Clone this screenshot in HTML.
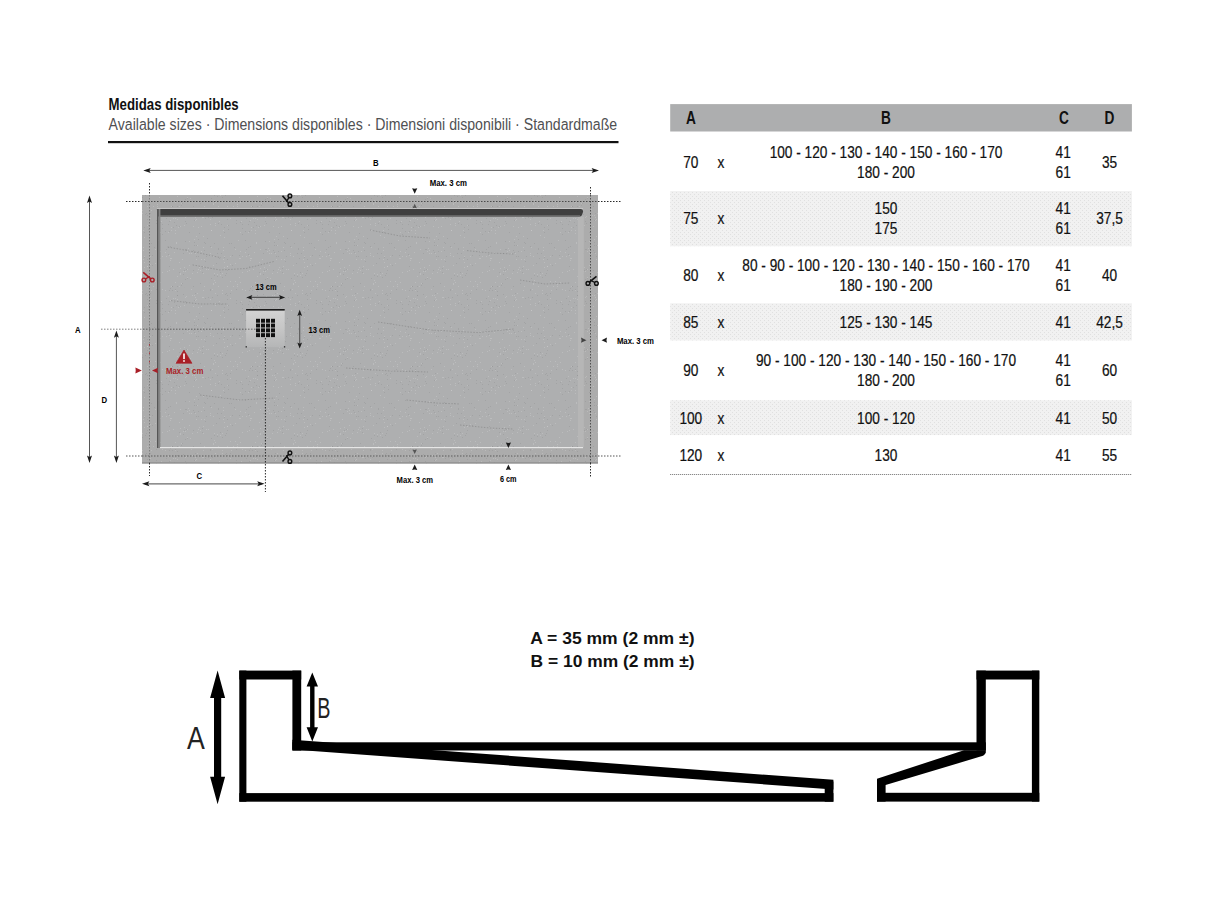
<!DOCTYPE html>
<html><head><meta charset="utf-8"><title>Medidas disponibles</title>
<style>
html,body{margin:0;padding:0;background:#fff;}
body{width:1206px;height:904px;overflow:hidden;}
svg{display:block;font-family:"Liberation Sans",sans-serif;}
</style></head><body>
<svg width="1206" height="904" viewBox="0 0 1206 904">
<rect width="1206" height="904" fill="#fff"/>
<text x="108.60" y="110.00" font-size="16.8" font-weight="bold" fill="#111" textLength="130.10" lengthAdjust="spacingAndGlyphs" >Medidas disponibles</text>
<text x="108.60" y="129.80" font-size="16.8" font-weight="normal" fill="#4f5052" textLength="508.60" lengthAdjust="spacingAndGlyphs" >Available sizes · Dimensions disponibles · Dimensioni disponibili · Standardmaße</text>
<rect x="108" y="141" width="510.5" height="2.2" fill="#111"/>
<rect x="670.2" y="104.1" width="461.7" height="27.4" fill="#adaeaf"/>
<defs><pattern id="rowpat" x="0" y="0" width="4" height="4" patternUnits="userSpaceOnUse"><rect width="4" height="4" fill="#f1f1f1"/><rect x="0" y="0" width="1" height="1" fill="#e0e0e0"/><rect x="2" y="2" width="1" height="1" fill="#e0e0e0"/></pattern></defs>
<rect x="670.2" y="191.0" width="461.7" height="55.3" fill="url(#rowpat)"/>
<rect x="670.2" y="303.3" width="461.7" height="37.2" fill="url(#rowpat)"/>
<rect x="670.2" y="400.2" width="461.7" height="34.9" fill="url(#rowpat)"/>
<line x1="670.2" y1="474.5" x2="1131.9" y2="474.5" stroke="#6e6e6e" stroke-width="1" stroke-dasharray="1 1"/>
<text x="686.06" y="124.00" font-size="18" font-weight="bold" fill="#111" textLength="9.88" lengthAdjust="spacingAndGlyphs" >A</text>
<text x="881.06" y="124.00" font-size="18" font-weight="bold" fill="#111" textLength="9.88" lengthAdjust="spacingAndGlyphs" >B</text>
<text x="1059.06" y="124.00" font-size="18" font-weight="bold" fill="#111" textLength="9.88" lengthAdjust="spacingAndGlyphs" >C</text>
<text x="1104.56" y="124.00" font-size="18" font-weight="bold" fill="#111" textLength="9.88" lengthAdjust="spacingAndGlyphs" >D</text>
<text x="683.19" y="167.90" font-size="16.5" font-weight="normal" fill="#111" textLength="15.22" lengthAdjust="spacingAndGlyphs"  stroke="#111" stroke-width="0.22">70</text>
<text x="717.58" y="167.90" font-size="16.5" font-weight="normal" fill="#111" textLength="6.84" lengthAdjust="spacingAndGlyphs"  stroke="#111" stroke-width="0.22">x</text>
<text x="1101.89" y="167.90" font-size="16.5" font-weight="normal" fill="#111" textLength="15.22" lengthAdjust="spacingAndGlyphs"  stroke="#111" stroke-width="0.22">35</text>
<text x="769.65" y="157.90" font-size="16.5" font-weight="normal" fill="#111" textLength="232.70" lengthAdjust="spacingAndGlyphs"  stroke="#111" stroke-width="0.22">100 - 120 - 130 - 140 - 150 - 160 - 170</text>
<text x="857.10" y="177.90" font-size="16.5" font-weight="normal" fill="#111" textLength="57.80" lengthAdjust="spacingAndGlyphs"  stroke="#111" stroke-width="0.22">180 - 200</text>
<text x="1055.59" y="157.90" font-size="16.5" font-weight="normal" fill="#111" textLength="15.22" lengthAdjust="spacingAndGlyphs"  stroke="#111" stroke-width="0.22">41</text>
<text x="1055.59" y="177.90" font-size="16.5" font-weight="normal" fill="#111" textLength="15.22" lengthAdjust="spacingAndGlyphs"  stroke="#111" stroke-width="0.22">61</text>
<text x="683.19" y="224.40" font-size="16.5" font-weight="normal" fill="#111" textLength="15.22" lengthAdjust="spacingAndGlyphs"  stroke="#111" stroke-width="0.22">75</text>
<text x="717.58" y="224.40" font-size="16.5" font-weight="normal" fill="#111" textLength="6.84" lengthAdjust="spacingAndGlyphs"  stroke="#111" stroke-width="0.22">x</text>
<text x="1096.19" y="224.40" font-size="16.5" font-weight="normal" fill="#111" textLength="26.62" lengthAdjust="spacingAndGlyphs"  stroke="#111" stroke-width="0.22">37,5</text>
<text x="874.59" y="214.40" font-size="16.5" font-weight="normal" fill="#111" textLength="22.82" lengthAdjust="spacingAndGlyphs"  stroke="#111" stroke-width="0.22">150</text>
<text x="874.59" y="234.40" font-size="16.5" font-weight="normal" fill="#111" textLength="22.82" lengthAdjust="spacingAndGlyphs"  stroke="#111" stroke-width="0.22">175</text>
<text x="1055.59" y="214.40" font-size="16.5" font-weight="normal" fill="#111" textLength="15.22" lengthAdjust="spacingAndGlyphs"  stroke="#111" stroke-width="0.22">41</text>
<text x="1055.59" y="234.40" font-size="16.5" font-weight="normal" fill="#111" textLength="15.22" lengthAdjust="spacingAndGlyphs"  stroke="#111" stroke-width="0.22">61</text>
<text x="683.19" y="280.70" font-size="16.5" font-weight="normal" fill="#111" textLength="15.22" lengthAdjust="spacingAndGlyphs"  stroke="#111" stroke-width="0.22">80</text>
<text x="717.58" y="280.70" font-size="16.5" font-weight="normal" fill="#111" textLength="6.84" lengthAdjust="spacingAndGlyphs"  stroke="#111" stroke-width="0.22">x</text>
<text x="1101.89" y="280.70" font-size="16.5" font-weight="normal" fill="#111" textLength="15.22" lengthAdjust="spacingAndGlyphs"  stroke="#111" stroke-width="0.22">40</text>
<text x="742.28" y="270.70" font-size="16.5" font-weight="normal" fill="#111" textLength="287.45" lengthAdjust="spacingAndGlyphs"  stroke="#111" stroke-width="0.22">80 - 90 - 100 - 120 - 130 - 140 - 150 - 160 - 170</text>
<text x="839.61" y="290.70" font-size="16.5" font-weight="normal" fill="#111" textLength="92.78" lengthAdjust="spacingAndGlyphs"  stroke="#111" stroke-width="0.22">180 - 190 - 200</text>
<text x="1055.59" y="270.70" font-size="16.5" font-weight="normal" fill="#111" textLength="15.22" lengthAdjust="spacingAndGlyphs"  stroke="#111" stroke-width="0.22">41</text>
<text x="1055.59" y="290.70" font-size="16.5" font-weight="normal" fill="#111" textLength="15.22" lengthAdjust="spacingAndGlyphs"  stroke="#111" stroke-width="0.22">61</text>
<text x="683.19" y="327.50" font-size="16.5" font-weight="normal" fill="#111" textLength="15.22" lengthAdjust="spacingAndGlyphs"  stroke="#111" stroke-width="0.22">85</text>
<text x="717.58" y="327.50" font-size="16.5" font-weight="normal" fill="#111" textLength="6.84" lengthAdjust="spacingAndGlyphs"  stroke="#111" stroke-width="0.22">x</text>
<text x="1096.19" y="327.50" font-size="16.5" font-weight="normal" fill="#111" textLength="26.62" lengthAdjust="spacingAndGlyphs"  stroke="#111" stroke-width="0.22">42,5</text>
<text x="839.61" y="327.50" font-size="16.5" font-weight="normal" fill="#111" textLength="92.78" lengthAdjust="spacingAndGlyphs"  stroke="#111" stroke-width="0.22">125 - 130 - 145</text>
<text x="1055.59" y="327.50" font-size="16.5" font-weight="normal" fill="#111" textLength="15.22" lengthAdjust="spacingAndGlyphs"  stroke="#111" stroke-width="0.22">41</text>
<text x="683.19" y="375.70" font-size="16.5" font-weight="normal" fill="#111" textLength="15.22" lengthAdjust="spacingAndGlyphs"  stroke="#111" stroke-width="0.22">90</text>
<text x="717.58" y="375.70" font-size="16.5" font-weight="normal" fill="#111" textLength="6.84" lengthAdjust="spacingAndGlyphs"  stroke="#111" stroke-width="0.22">x</text>
<text x="1101.89" y="375.70" font-size="16.5" font-weight="normal" fill="#111" textLength="15.22" lengthAdjust="spacingAndGlyphs"  stroke="#111" stroke-width="0.22">60</text>
<text x="755.96" y="365.70" font-size="16.5" font-weight="normal" fill="#111" textLength="260.08" lengthAdjust="spacingAndGlyphs"  stroke="#111" stroke-width="0.22">90 - 100 - 120 - 130 - 140 - 150 - 160 - 170</text>
<text x="857.10" y="385.70" font-size="16.5" font-weight="normal" fill="#111" textLength="57.80" lengthAdjust="spacingAndGlyphs"  stroke="#111" stroke-width="0.22">180 - 200</text>
<text x="1055.59" y="365.70" font-size="16.5" font-weight="normal" fill="#111" textLength="15.22" lengthAdjust="spacingAndGlyphs"  stroke="#111" stroke-width="0.22">41</text>
<text x="1055.59" y="385.70" font-size="16.5" font-weight="normal" fill="#111" textLength="15.22" lengthAdjust="spacingAndGlyphs"  stroke="#111" stroke-width="0.22">61</text>
<text x="679.39" y="423.90" font-size="16.5" font-weight="normal" fill="#111" textLength="22.82" lengthAdjust="spacingAndGlyphs"  stroke="#111" stroke-width="0.22">100</text>
<text x="717.58" y="423.90" font-size="16.5" font-weight="normal" fill="#111" textLength="6.84" lengthAdjust="spacingAndGlyphs"  stroke="#111" stroke-width="0.22">x</text>
<text x="1101.89" y="423.90" font-size="16.5" font-weight="normal" fill="#111" textLength="15.22" lengthAdjust="spacingAndGlyphs"  stroke="#111" stroke-width="0.22">50</text>
<text x="857.10" y="423.90" font-size="16.5" font-weight="normal" fill="#111" textLength="57.80" lengthAdjust="spacingAndGlyphs"  stroke="#111" stroke-width="0.22">100 - 120</text>
<text x="1055.59" y="423.90" font-size="16.5" font-weight="normal" fill="#111" textLength="15.22" lengthAdjust="spacingAndGlyphs"  stroke="#111" stroke-width="0.22">41</text>
<text x="679.39" y="460.90" font-size="16.5" font-weight="normal" fill="#111" textLength="22.82" lengthAdjust="spacingAndGlyphs"  stroke="#111" stroke-width="0.22">120</text>
<text x="717.58" y="460.90" font-size="16.5" font-weight="normal" fill="#111" textLength="6.84" lengthAdjust="spacingAndGlyphs"  stroke="#111" stroke-width="0.22">x</text>
<text x="1101.89" y="460.90" font-size="16.5" font-weight="normal" fill="#111" textLength="15.22" lengthAdjust="spacingAndGlyphs"  stroke="#111" stroke-width="0.22">55</text>
<text x="874.59" y="460.90" font-size="16.5" font-weight="normal" fill="#111" textLength="22.82" lengthAdjust="spacingAndGlyphs"  stroke="#111" stroke-width="0.22">130</text>
<text x="1055.59" y="460.90" font-size="16.5" font-weight="normal" fill="#111" textLength="15.22" lengthAdjust="spacingAndGlyphs"  stroke="#111" stroke-width="0.22">41</text>
<rect x="142" y="195" width="456" height="268.5" fill="#acacac"/>
<rect x="157" y="209" width="426.8" height="239" fill="#aeafb0"/>
<defs><pattern id="spk" x="0" y="0" width="80" height="80" patternUnits="userSpaceOnUse"><rect x="41" y="19" width="1" height="1" fill="#d4d4d4" fill-opacity="0.35"/><rect x="6" y="9" width="1" height="1" fill="#8a8a8a" fill-opacity="0.3"/><rect x="12" y="46" width="1" height="1" fill="#8a8a8a" fill-opacity="0.3"/><rect x="64" y="27" width="1" height="1" fill="#d4d4d4" fill-opacity="0.35"/><rect x="55" y="53" width="1" height="1" fill="#d4d4d4" fill-opacity="0.35"/><rect x="11" y="70" width="1" height="1" fill="#d4d4d4" fill-opacity="0.35"/><rect x="72" y="15" width="1" height="1" fill="#8a8a8a" fill-opacity="0.3"/><rect x="74" y="7" width="1" height="1" fill="#8a8a8a" fill-opacity="0.3"/><rect x="50" y="6" width="1" height="1" fill="#8a8a8a" fill-opacity="0.3"/><rect x="5" y="71" width="1" height="1" fill="#8a8a8a" fill-opacity="0.3"/><rect x="37" y="53" width="1" height="1" fill="#d4d4d4" fill-opacity="0.35"/><rect x="15" y="73" width="1" height="1" fill="#d4d4d4" fill-opacity="0.35"/><rect x="23" y="13" width="1" height="1" fill="#8a8a8a" fill-opacity="0.3"/><rect x="24" y="47" width="1" height="1" fill="#d4d4d4" fill-opacity="0.35"/><rect x="8" y="72" width="1" height="1" fill="#d4d4d4" fill-opacity="0.35"/><rect x="26" y="63" width="1" height="1" fill="#8a8a8a" fill-opacity="0.3"/><rect x="54" y="40" width="1" height="1" fill="#d4d4d4" fill-opacity="0.35"/><rect x="58" y="46" width="1" height="1" fill="#d4d4d4" fill-opacity="0.35"/><rect x="23" y="31" width="1" height="1" fill="#d4d4d4" fill-opacity="0.35"/><rect x="38" y="67" width="1" height="1" fill="#d4d4d4" fill-opacity="0.35"/><rect x="43" y="57" width="1" height="1" fill="#d4d4d4" fill-opacity="0.35"/><rect x="9" y="15" width="1" height="1" fill="#d4d4d4" fill-opacity="0.35"/><rect x="21" y="43" width="1" height="1" fill="#d4d4d4" fill-opacity="0.35"/><rect x="62" y="53" width="1" height="1" fill="#d4d4d4" fill-opacity="0.35"/><rect x="9" y="71" width="1" height="1" fill="#8a8a8a" fill-opacity="0.3"/><rect x="40" y="43" width="1" height="1" fill="#8a8a8a" fill-opacity="0.3"/><rect x="76" y="63" width="1" height="1" fill="#8a8a8a" fill-opacity="0.3"/><rect x="58" y="8" width="1" height="1" fill="#8a8a8a" fill-opacity="0.3"/><rect x="34" y="60" width="1" height="1" fill="#8a8a8a" fill-opacity="0.3"/><rect x="8" y="7" width="1" height="1" fill="#8a8a8a" fill-opacity="0.3"/><rect x="39" y="73" width="1" height="1" fill="#8a8a8a" fill-opacity="0.3"/><rect x="57" y="36" width="1" height="1" fill="#8a8a8a" fill-opacity="0.3"/><rect x="44" y="2" width="1" height="1" fill="#8a8a8a" fill-opacity="0.3"/><rect x="45" y="21" width="1" height="1" fill="#8a8a8a" fill-opacity="0.3"/><rect x="63" y="7" width="1" height="1" fill="#d4d4d4" fill-opacity="0.35"/><rect x="36" y="16" width="1" height="1" fill="#8a8a8a" fill-opacity="0.3"/><rect x="50" y="50" width="1" height="1" fill="#8a8a8a" fill-opacity="0.3"/><rect x="63" y="10" width="1" height="1" fill="#d4d4d4" fill-opacity="0.35"/><rect x="51" y="70" width="1" height="1" fill="#d4d4d4" fill-opacity="0.35"/><rect x="17" y="55" width="1" height="1" fill="#8a8a8a" fill-opacity="0.3"/><rect x="35" y="53" width="1" height="1" fill="#8a8a8a" fill-opacity="0.3"/><rect x="48" y="29" width="1" height="1" fill="#d4d4d4" fill-opacity="0.35"/><rect x="22" y="19" width="1" height="1" fill="#d4d4d4" fill-opacity="0.35"/><rect x="29" y="1" width="1" height="1" fill="#d4d4d4" fill-opacity="0.35"/><rect x="75" y="23" width="1" height="1" fill="#d4d4d4" fill-opacity="0.35"/><rect x="0" y="18" width="1" height="1" fill="#d4d4d4" fill-opacity="0.35"/><rect x="47" y="78" width="1" height="1" fill="#8a8a8a" fill-opacity="0.3"/><rect x="16" y="65" width="1" height="1" fill="#8a8a8a" fill-opacity="0.3"/><rect x="6" y="58" width="1" height="1" fill="#8a8a8a" fill-opacity="0.3"/><rect x="71" y="50" width="1" height="1" fill="#d4d4d4" fill-opacity="0.35"/><rect x="50" y="13" width="1" height="1" fill="#d4d4d4" fill-opacity="0.35"/><rect x="51" y="7" width="1" height="1" fill="#d4d4d4" fill-opacity="0.35"/><rect x="26" y="56" width="1" height="1" fill="#d4d4d4" fill-opacity="0.35"/><rect x="43" y="76" width="1" height="1" fill="#d4d4d4" fill-opacity="0.35"/><rect x="0" y="72" width="1" height="1" fill="#d4d4d4" fill-opacity="0.35"/><rect x="12" y="46" width="1" height="1" fill="#8a8a8a" fill-opacity="0.3"/><rect x="9" y="26" width="1" height="1" fill="#8a8a8a" fill-opacity="0.3"/><rect x="19" y="32" width="1" height="1" fill="#8a8a8a" fill-opacity="0.3"/><rect x="77" y="46" width="1" height="1" fill="#d4d4d4" fill-opacity="0.35"/><rect x="14" y="62" width="1" height="1" fill="#8a8a8a" fill-opacity="0.3"/><rect x="59" y="61" width="1" height="1" fill="#d4d4d4" fill-opacity="0.35"/><rect x="10" y="18" width="1" height="1" fill="#d4d4d4" fill-opacity="0.35"/><rect x="43" y="33" width="1" height="1" fill="#d4d4d4" fill-opacity="0.35"/><rect x="20" y="66" width="1" height="1" fill="#d4d4d4" fill-opacity="0.35"/><rect x="67" y="46" width="1" height="1" fill="#d4d4d4" fill-opacity="0.35"/><rect x="69" y="3" width="1" height="1" fill="#8a8a8a" fill-opacity="0.3"/><rect x="38" y="11" width="1" height="1" fill="#8a8a8a" fill-opacity="0.3"/><rect x="33" y="66" width="1" height="1" fill="#d4d4d4" fill-opacity="0.35"/><rect x="21" y="45" width="1" height="1" fill="#8a8a8a" fill-opacity="0.3"/><rect x="68" y="69" width="1" height="1" fill="#8a8a8a" fill-opacity="0.3"/><rect x="42" y="28" width="1" height="1" fill="#8a8a8a" fill-opacity="0.3"/><rect x="24" y="30" width="1" height="1" fill="#8a8a8a" fill-opacity="0.3"/><rect x="29" y="25" width="1" height="1" fill="#d4d4d4" fill-opacity="0.35"/><rect x="45" y="3" width="1" height="1" fill="#8a8a8a" fill-opacity="0.3"/><rect x="35" y="60" width="1" height="1" fill="#d4d4d4" fill-opacity="0.35"/><rect x="77" y="44" width="1" height="1" fill="#d4d4d4" fill-opacity="0.35"/><rect x="44" y="46" width="1" height="1" fill="#d4d4d4" fill-opacity="0.35"/><rect x="13" y="29" width="1" height="1" fill="#d4d4d4" fill-opacity="0.35"/><rect x="43" y="26" width="1" height="1" fill="#d4d4d4" fill-opacity="0.35"/><rect x="78" y="0" width="1" height="1" fill="#d4d4d4" fill-opacity="0.35"/><rect x="44" y="10" width="1" height="1" fill="#8a8a8a" fill-opacity="0.3"/><rect x="15" y="49" width="1" height="1" fill="#8a8a8a" fill-opacity="0.3"/><rect x="25" y="61" width="1" height="1" fill="#8a8a8a" fill-opacity="0.3"/><rect x="55" y="42" width="1" height="1" fill="#d4d4d4" fill-opacity="0.35"/><rect x="50" y="59" width="1" height="1" fill="#d4d4d4" fill-opacity="0.35"/><rect x="10" y="20" width="1" height="1" fill="#d4d4d4" fill-opacity="0.35"/><rect x="16" y="3" width="1" height="1" fill="#d4d4d4" fill-opacity="0.35"/><rect x="59" y="18" width="1" height="1" fill="#8a8a8a" fill-opacity="0.3"/><rect x="76" y="60" width="1" height="1" fill="#8a8a8a" fill-opacity="0.3"/><rect x="44" y="19" width="1" height="1" fill="#d4d4d4" fill-opacity="0.35"/><rect x="16" y="2" width="1" height="1" fill="#d4d4d4" fill-opacity="0.35"/><rect x="13" y="67" width="1" height="1" fill="#8a8a8a" fill-opacity="0.3"/><rect x="17" y="55" width="1" height="1" fill="#8a8a8a" fill-opacity="0.3"/><rect x="24" y="27" width="1" height="1" fill="#d4d4d4" fill-opacity="0.35"/><rect x="27" y="37" width="1" height="1" fill="#d4d4d4" fill-opacity="0.35"/><rect x="75" y="41" width="1" height="1" fill="#d4d4d4" fill-opacity="0.35"/><rect x="53" y="16" width="1" height="1" fill="#d4d4d4" fill-opacity="0.35"/><rect x="45" y="58" width="1" height="1" fill="#8a8a8a" fill-opacity="0.3"/><rect x="66" y="53" width="1" height="1" fill="#8a8a8a" fill-opacity="0.3"/><rect x="64" y="16" width="1" height="1" fill="#d4d4d4" fill-opacity="0.35"/><rect x="67" y="65" width="1" height="1" fill="#d4d4d4" fill-opacity="0.35"/><rect x="56" y="23" width="1" height="1" fill="#8a8a8a" fill-opacity="0.3"/><rect x="19" y="22" width="1" height="1" fill="#d4d4d4" fill-opacity="0.35"/><rect x="79" y="15" width="1" height="1" fill="#8a8a8a" fill-opacity="0.3"/><rect x="41" y="66" width="1" height="1" fill="#d4d4d4" fill-opacity="0.35"/><rect x="61" y="13" width="1" height="1" fill="#8a8a8a" fill-opacity="0.3"/><rect x="7" y="31" width="1" height="1" fill="#d4d4d4" fill-opacity="0.35"/><rect x="5" y="12" width="1" height="1" fill="#d4d4d4" fill-opacity="0.35"/><rect x="71" y="3" width="1" height="1" fill="#8a8a8a" fill-opacity="0.3"/><rect x="8" y="56" width="1" height="1" fill="#d4d4d4" fill-opacity="0.35"/><rect x="64" y="77" width="1" height="1" fill="#d4d4d4" fill-opacity="0.35"/><rect x="35" y="57" width="1" height="1" fill="#d4d4d4" fill-opacity="0.35"/><rect x="61" y="64" width="1" height="1" fill="#8a8a8a" fill-opacity="0.3"/><rect x="66" y="33" width="1" height="1" fill="#8a8a8a" fill-opacity="0.3"/><rect x="25" y="57" width="1" height="1" fill="#d4d4d4" fill-opacity="0.35"/><rect x="15" y="50" width="1" height="1" fill="#d4d4d4" fill-opacity="0.35"/><rect x="9" y="30" width="1" height="1" fill="#d4d4d4" fill-opacity="0.35"/><rect x="27" y="38" width="1" height="1" fill="#8a8a8a" fill-opacity="0.3"/><rect x="19" y="46" width="1" height="1" fill="#d4d4d4" fill-opacity="0.35"/><rect x="17" y="59" width="1" height="1" fill="#d4d4d4" fill-opacity="0.35"/><rect x="12" y="50" width="1" height="1" fill="#8a8a8a" fill-opacity="0.3"/><rect x="20" y="28" width="1" height="1" fill="#d4d4d4" fill-opacity="0.35"/><rect x="55" y="65" width="1" height="1" fill="#d4d4d4" fill-opacity="0.35"/><rect x="53" y="25" width="1" height="1" fill="#d4d4d4" fill-opacity="0.35"/><rect x="11" y="46" width="1" height="1" fill="#d4d4d4" fill-opacity="0.35"/><rect x="70" y="58" width="1" height="1" fill="#d4d4d4" fill-opacity="0.35"/><rect x="2" y="49" width="1" height="1" fill="#d4d4d4" fill-opacity="0.35"/><rect x="79" y="37" width="1" height="1" fill="#d4d4d4" fill-opacity="0.35"/><rect x="8" y="14" width="1" height="1" fill="#8a8a8a" fill-opacity="0.3"/><rect x="29" y="13" width="1" height="1" fill="#d4d4d4" fill-opacity="0.35"/><rect x="34" y="5" width="1" height="1" fill="#8a8a8a" fill-opacity="0.3"/><rect x="23" y="34" width="1" height="1" fill="#8a8a8a" fill-opacity="0.3"/><rect x="54" y="33" width="1" height="1" fill="#d4d4d4" fill-opacity="0.35"/><rect x="68" y="65" width="1" height="1" fill="#8a8a8a" fill-opacity="0.3"/><rect x="41" y="11" width="1" height="1" fill="#d4d4d4" fill-opacity="0.35"/><rect x="23" y="54" width="1" height="1" fill="#8a8a8a" fill-opacity="0.3"/><rect x="34" y="2" width="1" height="1" fill="#8a8a8a" fill-opacity="0.3"/><rect x="33" y="10" width="1" height="1" fill="#8a8a8a" fill-opacity="0.3"/><rect x="28" y="8" width="1" height="1" fill="#d4d4d4" fill-opacity="0.35"/><rect x="15" y="58" width="1" height="1" fill="#d4d4d4" fill-opacity="0.35"/><rect x="70" y="53" width="1" height="1" fill="#8a8a8a" fill-opacity="0.3"/><rect x="34" y="79" width="1" height="1" fill="#d4d4d4" fill-opacity="0.35"/><rect x="67" y="30" width="1" height="1" fill="#8a8a8a" fill-opacity="0.3"/><rect x="20" y="33" width="1" height="1" fill="#d4d4d4" fill-opacity="0.35"/><rect x="25" y="39" width="1" height="1" fill="#8a8a8a" fill-opacity="0.3"/><rect x="67" y="26" width="1" height="1" fill="#d4d4d4" fill-opacity="0.35"/><rect x="64" y="22" width="1" height="1" fill="#d4d4d4" fill-opacity="0.35"/><rect x="2" y="32" width="1" height="1" fill="#d4d4d4" fill-opacity="0.35"/><rect x="2" y="64" width="1" height="1" fill="#8a8a8a" fill-opacity="0.3"/><rect x="24" y="65" width="1" height="1" fill="#d4d4d4" fill-opacity="0.35"/><rect x="57" y="13" width="1" height="1" fill="#8a8a8a" fill-opacity="0.3"/><rect x="55" y="63" width="1" height="1" fill="#d4d4d4" fill-opacity="0.35"/><rect x="50" y="64" width="1" height="1" fill="#d4d4d4" fill-opacity="0.35"/><rect x="27" y="29" width="1" height="1" fill="#d4d4d4" fill-opacity="0.35"/><rect x="17" y="51" width="1" height="1" fill="#8a8a8a" fill-opacity="0.3"/><rect x="6" y="16" width="1" height="1" fill="#d4d4d4" fill-opacity="0.35"/><rect x="32" y="55" width="1" height="1" fill="#d4d4d4" fill-opacity="0.35"/><rect x="10" y="48" width="1" height="1" fill="#8a8a8a" fill-opacity="0.3"/><rect x="36" y="76" width="1" height="1" fill="#d4d4d4" fill-opacity="0.35"/><rect x="37" y="5" width="1" height="1" fill="#d4d4d4" fill-opacity="0.35"/><rect x="20" y="34" width="1" height="1" fill="#d4d4d4" fill-opacity="0.35"/><rect x="33" y="46" width="1" height="1" fill="#8a8a8a" fill-opacity="0.3"/><rect x="70" y="41" width="1" height="1" fill="#d4d4d4" fill-opacity="0.35"/><rect x="39" y="27" width="1" height="1" fill="#d4d4d4" fill-opacity="0.35"/><rect x="0" y="42" width="1" height="1" fill="#d4d4d4" fill-opacity="0.35"/><rect x="60" y="35" width="1" height="1" fill="#d4d4d4" fill-opacity="0.35"/><rect x="25" y="31" width="1" height="1" fill="#d4d4d4" fill-opacity="0.35"/><rect x="0" y="11" width="1" height="1" fill="#d4d4d4" fill-opacity="0.35"/><rect x="11" y="18" width="1" height="1" fill="#d4d4d4" fill-opacity="0.35"/><rect x="5" y="50" width="1" height="1" fill="#d4d4d4" fill-opacity="0.35"/><rect x="38" y="29" width="1" height="1" fill="#d4d4d4" fill-opacity="0.35"/><rect x="67" y="19" width="1" height="1" fill="#8a8a8a" fill-opacity="0.3"/><rect x="76" y="49" width="1" height="1" fill="#8a8a8a" fill-opacity="0.3"/><rect x="63" y="19" width="1" height="1" fill="#d4d4d4" fill-opacity="0.35"/><rect x="79" y="18" width="1" height="1" fill="#d4d4d4" fill-opacity="0.35"/><rect x="65" y="54" width="1" height="1" fill="#8a8a8a" fill-opacity="0.3"/><rect x="64" y="17" width="1" height="1" fill="#8a8a8a" fill-opacity="0.3"/><rect x="64" y="72" width="1" height="1" fill="#8a8a8a" fill-opacity="0.3"/><rect x="2" y="74" width="1" height="1" fill="#8a8a8a" fill-opacity="0.3"/><rect x="29" y="10" width="1" height="1" fill="#d4d4d4" fill-opacity="0.35"/><rect x="17" y="46" width="1" height="1" fill="#8a8a8a" fill-opacity="0.3"/><rect x="48" y="57" width="1" height="1" fill="#8a8a8a" fill-opacity="0.3"/><rect x="2" y="68" width="1" height="1" fill="#8a8a8a" fill-opacity="0.3"/><rect x="62" y="33" width="1" height="1" fill="#d4d4d4" fill-opacity="0.35"/><rect x="8" y="64" width="1" height="1" fill="#8a8a8a" fill-opacity="0.3"/><rect x="11" y="67" width="1" height="1" fill="#d4d4d4" fill-opacity="0.35"/><rect x="60" y="32" width="1" height="1" fill="#8a8a8a" fill-opacity="0.3"/><rect x="33" y="30" width="1" height="1" fill="#8a8a8a" fill-opacity="0.3"/><rect x="26" y="29" width="1" height="1" fill="#8a8a8a" fill-opacity="0.3"/><rect x="58" y="63" width="1" height="1" fill="#8a8a8a" fill-opacity="0.3"/><rect x="9" y="61" width="1" height="1" fill="#8a8a8a" fill-opacity="0.3"/><rect x="36" y="5" width="1" height="1" fill="#8a8a8a" fill-opacity="0.3"/><rect x="25" y="9" width="1" height="1" fill="#8a8a8a" fill-opacity="0.3"/><rect x="42" y="32" width="1" height="1" fill="#8a8a8a" fill-opacity="0.3"/><rect x="38" y="79" width="1" height="1" fill="#8a8a8a" fill-opacity="0.3"/><rect x="1" y="61" width="1" height="1" fill="#d4d4d4" fill-opacity="0.35"/><rect x="34" y="12" width="1" height="1" fill="#8a8a8a" fill-opacity="0.3"/><rect x="62" y="37" width="1" height="1" fill="#8a8a8a" fill-opacity="0.3"/><rect x="36" y="59" width="1" height="1" fill="#d4d4d4" fill-opacity="0.35"/><rect x="15" y="70" width="1" height="1" fill="#d4d4d4" fill-opacity="0.35"/><rect x="10" y="60" width="1" height="1" fill="#d4d4d4" fill-opacity="0.35"/><rect x="58" y="9" width="1" height="1" fill="#8a8a8a" fill-opacity="0.3"/><rect x="57" y="34" width="1" height="1" fill="#d4d4d4" fill-opacity="0.35"/><rect x="26" y="9" width="1" height="1" fill="#8a8a8a" fill-opacity="0.3"/><rect x="18" y="67" width="1" height="1" fill="#d4d4d4" fill-opacity="0.35"/><rect x="46" y="16" width="1" height="1" fill="#8a8a8a" fill-opacity="0.3"/><rect x="65" y="35" width="1" height="1" fill="#8a8a8a" fill-opacity="0.3"/><rect x="46" y="29" width="1" height="1" fill="#d4d4d4" fill-opacity="0.35"/><rect x="62" y="50" width="1" height="1" fill="#d4d4d4" fill-opacity="0.35"/><rect x="0" y="62" width="1" height="1" fill="#8a8a8a" fill-opacity="0.3"/><rect x="51" y="38" width="1" height="1" fill="#8a8a8a" fill-opacity="0.3"/><rect x="53" y="44" width="1" height="1" fill="#d4d4d4" fill-opacity="0.35"/><rect x="15" y="42" width="1" height="1" fill="#d4d4d4" fill-opacity="0.35"/><rect x="43" y="50" width="1" height="1" fill="#d4d4d4" fill-opacity="0.35"/><rect x="25" y="1" width="1" height="1" fill="#8a8a8a" fill-opacity="0.3"/><rect x="37" y="32" width="1" height="1" fill="#d4d4d4" fill-opacity="0.35"/><rect x="50" y="49" width="1" height="1" fill="#8a8a8a" fill-opacity="0.3"/><rect x="75" y="9" width="1" height="1" fill="#d4d4d4" fill-opacity="0.35"/><rect x="54" y="35" width="1" height="1" fill="#8a8a8a" fill-opacity="0.3"/><rect x="35" y="13" width="1" height="1" fill="#d4d4d4" fill-opacity="0.35"/><rect x="36" y="19" width="1" height="1" fill="#d4d4d4" fill-opacity="0.35"/><rect x="34" y="55" width="1" height="1" fill="#d4d4d4" fill-opacity="0.35"/><rect x="24" y="47" width="1" height="1" fill="#8a8a8a" fill-opacity="0.3"/><rect x="54" y="3" width="1" height="1" fill="#8a8a8a" fill-opacity="0.3"/><rect x="51" y="70" width="1" height="1" fill="#d4d4d4" fill-opacity="0.35"/><rect x="10" y="6" width="1" height="1" fill="#8a8a8a" fill-opacity="0.3"/><rect x="52" y="57" width="1" height="1" fill="#8a8a8a" fill-opacity="0.3"/><rect x="17" y="36" width="1" height="1" fill="#d4d4d4" fill-opacity="0.35"/><rect x="70" y="16" width="1" height="1" fill="#d4d4d4" fill-opacity="0.35"/><rect x="53" y="43" width="1" height="1" fill="#d4d4d4" fill-opacity="0.35"/><rect x="32" y="33" width="1" height="1" fill="#d4d4d4" fill-opacity="0.35"/><rect x="30" y="38" width="1" height="1" fill="#d4d4d4" fill-opacity="0.35"/><rect x="50" y="15" width="1" height="1" fill="#d4d4d4" fill-opacity="0.35"/><rect x="20" y="9" width="1" height="1" fill="#d4d4d4" fill-opacity="0.35"/><rect x="63" y="70" width="1" height="1" fill="#d4d4d4" fill-opacity="0.35"/><rect x="42" y="57" width="1" height="1" fill="#d4d4d4" fill-opacity="0.35"/><rect x="70" y="24" width="1" height="1" fill="#d4d4d4" fill-opacity="0.35"/><rect x="22" y="43" width="1" height="1" fill="#8a8a8a" fill-opacity="0.3"/><rect x="40" y="30" width="1" height="1" fill="#d4d4d4" fill-opacity="0.35"/><rect x="72" y="25" width="1" height="1" fill="#8a8a8a" fill-opacity="0.3"/><rect x="52" y="49" width="1" height="1" fill="#d4d4d4" fill-opacity="0.35"/><rect x="67" y="26" width="1" height="1" fill="#d4d4d4" fill-opacity="0.35"/><rect x="43" y="7" width="1" height="1" fill="#d4d4d4" fill-opacity="0.35"/><rect x="73" y="46" width="1" height="1" fill="#d4d4d4" fill-opacity="0.35"/><rect x="64" y="67" width="1" height="1" fill="#8a8a8a" fill-opacity="0.3"/><rect x="27" y="11" width="1" height="1" fill="#d4d4d4" fill-opacity="0.35"/><rect x="31" y="49" width="1" height="1" fill="#d4d4d4" fill-opacity="0.35"/><rect x="57" y="55" width="1" height="1" fill="#8a8a8a" fill-opacity="0.3"/><rect x="2" y="16" width="1" height="1" fill="#d4d4d4" fill-opacity="0.35"/><rect x="60" y="75" width="1" height="1" fill="#d4d4d4" fill-opacity="0.35"/><rect x="9" y="50" width="1" height="1" fill="#8a8a8a" fill-opacity="0.3"/><rect x="67" y="59" width="1" height="1" fill="#8a8a8a" fill-opacity="0.3"/><rect x="31" y="13" width="1" height="1" fill="#d4d4d4" fill-opacity="0.35"/><rect x="19" y="66" width="1" height="1" fill="#8a8a8a" fill-opacity="0.3"/><rect x="13" y="58" width="1" height="1" fill="#d4d4d4" fill-opacity="0.35"/><rect x="5" y="0" width="1" height="1" fill="#8a8a8a" fill-opacity="0.3"/><rect x="29" y="72" width="1" height="1" fill="#8a8a8a" fill-opacity="0.3"/><rect x="38" y="16" width="1" height="1" fill="#8a8a8a" fill-opacity="0.3"/><rect x="67" y="55" width="1" height="1" fill="#8a8a8a" fill-opacity="0.3"/><rect x="14" y="12" width="1" height="1" fill="#d4d4d4" fill-opacity="0.35"/></pattern></defs>
<rect x="142" y="195" width="456" height="268.5" fill="url(#spk)"/>
<path d="M192.6,264.9 L220.0,270.0 L246.0,268.5 L274.6,261.3" fill="none" stroke="#6d6d6d" stroke-width="1" stroke-dasharray="1.5 1.5" stroke-opacity="0.4"/>
<path d="M167.7,247.0 L195.0,252.0 L221.0,257.8" fill="none" stroke="#6d6d6d" stroke-width="1" stroke-dasharray="1.5 1.5" stroke-opacity="0.4"/>
<path d="M171.0,300.6 L200.0,304.0 L228.0,304.0" fill="none" stroke="#6d6d6d" stroke-width="1" stroke-dasharray="1.5 1.5" stroke-opacity="0.4"/>
<path d="M378.0,322.0 L430.0,330.0 L478.0,332.6 L513.5,329.0" fill="none" stroke="#6d6d6d" stroke-width="1" stroke-dasharray="1.5 1.5" stroke-opacity="0.4"/>
<path d="M346.0,368.0 L390.0,371.0 L428.0,372.0" fill="none" stroke="#6d6d6d" stroke-width="1" stroke-dasharray="1.5 1.5" stroke-opacity="0.4"/>
<path d="M406.5,400.0 L435.0,403.0 L460.0,404.0" fill="none" stroke="#6d6d6d" stroke-width="1" stroke-dasharray="1.5 1.5" stroke-opacity="0.4"/>
<path d="M460.0,425.0 L490.0,428.0 L513.0,429.0" fill="none" stroke="#6d6d6d" stroke-width="1" stroke-dasharray="1.5 1.5" stroke-opacity="0.4"/>
<path d="M467.0,250.6 L490.0,253.0 L513.5,254.0" fill="none" stroke="#6d6d6d" stroke-width="1" stroke-dasharray="1.5 1.5" stroke-opacity="0.4"/>
<path d="M370.0,230.0 L400.0,236.0 L430.0,238.0" fill="none" stroke="#6d6d6d" stroke-width="1" stroke-dasharray="1.5 1.5" stroke-opacity="0.4"/>
<path d="M520.0,280.0 L545.0,284.0 L570.0,283.0" fill="none" stroke="#6d6d6d" stroke-width="1" stroke-dasharray="1.5 1.5" stroke-opacity="0.4"/>
<path d="M200.0,395.0 L240.0,400.0 L275.0,398.0" fill="none" stroke="#6d6d6d" stroke-width="1" stroke-dasharray="1.5 1.5" stroke-opacity="0.4"/>
<rect x="157" y="208" width="426" height="1" fill="#c4c4c4"/>
<path d="M157,209 L581,209 Q583.5,209.5 583,212 L582,215 Q581.5,216.5 579,216.5 L157,216.5 Z" fill="#3f3f3f"/>
<rect x="160" y="215.2" width="420" height="1.3" fill="#6e6e6e"/>
<rect x="157" y="209" width="1.6" height="239" fill="#555"/>
<rect x="158.6" y="209" width="1.8" height="239" fill="#858585"/>
<rect x="160" y="447" width="423" height="1.2" fill="#e6e6e6"/>
<rect x="142" y="462.3" width="456" height="1.2" fill="#8e8e8e"/>
<rect x="578" y="217" width="5.8" height="230" fill="#b6b6b6"/>
<line x1="126" y1="201.5" x2="142" y2="201.5" stroke="#2a2a2a" stroke-width="1" stroke-dasharray="1.5 1.5" fill="none"/>
<line x1="142" y1="201.5" x2="598" y2="201.5" stroke="#2a2a2a" stroke-width="1" stroke-dasharray="1.5 1.5" fill="none" stroke-opacity="0.75"/>
<line x1="598" y1="201.5" x2="621" y2="201.5" stroke="#2a2a2a" stroke-width="1" stroke-dasharray="1.5 1.5" fill="none"/>
<line x1="126" y1="456" x2="142" y2="456" stroke="#2a2a2a" stroke-width="1" stroke-dasharray="1.5 1.5" fill="none" stroke-opacity="0.8"/>
<line x1="142" y1="456" x2="598" y2="456" stroke="#2a2a2a" stroke-width="1" stroke-dasharray="1.5 1.5" fill="none" stroke-opacity="0.6"/>
<line x1="598" y1="456" x2="621" y2="456" stroke="#2a2a2a" stroke-width="1" stroke-dasharray="1.5 1.5" fill="none" stroke-opacity="0.8"/>
<line x1="149.5" y1="183" x2="149.5" y2="195" stroke="#2a2a2a" stroke-width="1" stroke-dasharray="1.5 1.5" fill="none"/>
<line x1="149.5" y1="195" x2="149.5" y2="463" stroke="#2a2a2a" stroke-width="1" stroke-dasharray="1.5 1.5" fill="none" stroke-opacity="0.35"/>
<line x1="149.5" y1="463" x2="149.5" y2="476" stroke="#2a2a2a" stroke-width="1" stroke-dasharray="1.5 1.5" fill="none"/>
<line x1="590.5" y1="187" x2="590.5" y2="195" stroke="#2a2a2a" stroke-width="1" stroke-dasharray="1.5 1.5" fill="none"/>
<line x1="590.5" y1="195" x2="590.5" y2="463" stroke="#2a2a2a" stroke-width="1" stroke-dasharray="1.5 1.5" fill="none" stroke-opacity="0.7"/>
<line x1="590.5" y1="463" x2="590.5" y2="478" stroke="#2a2a2a" stroke-width="1" stroke-dasharray="1.5 1.5" fill="none"/>
<line x1="146" y1="170.4" x2="596" y2="170.4" stroke="#555" stroke-width="1"/>
<path d="M143.30,170.40 L150.70,167.90 L149.22,170.40 L150.70,172.90 Z" fill="#1c1c1c"/>
<path d="M599.00,170.40 L591.60,172.90 L593.08,170.40 L591.60,167.90 Z" fill="#1c1c1c"/>
<line x1="89.5" y1="199" x2="89.5" y2="460" stroke="#555" stroke-width="1"/>
<path d="M89.50,195.50 L92.00,202.90 L89.50,201.42 L87.00,202.90 Z" fill="#1c1c1c"/>
<path d="M89.50,463.00 L87.00,455.60 L89.50,457.08 L92.00,455.60 Z" fill="#1c1c1c"/>
<line x1="116.4" y1="334" x2="116.4" y2="460" stroke="#555" stroke-width="1"/>
<path d="M116.40,330.40 L118.90,337.80 L116.40,336.32 L113.90,337.80 Z" fill="#1c1c1c"/>
<path d="M116.40,463.00 L113.90,455.60 L116.40,457.08 L118.90,455.60 Z" fill="#1c1c1c"/>
<line x1="145" y1="483.8" x2="262" y2="483.8" stroke="#6b6b6b" stroke-width="1.3"/>
<path d="M142.00,483.80 L149.40,481.30 L147.92,483.80 L149.40,486.30 Z" fill="#1c1c1c"/>
<path d="M264.60,483.80 L257.20,486.30 L258.68,483.80 L257.20,481.30 Z" fill="#1c1c1c"/>
<text x="373.09" y="165.60" font-size="9.5" font-weight="bold" fill="#000" textLength="5.63" lengthAdjust="spacingAndGlyphs" >B</text>
<text x="429.70" y="186.00" font-size="9.7" font-weight="bold" fill="#000" textLength="37.30" lengthAdjust="spacingAndGlyphs" >Max. 3 cm</text>
<text x="74.89" y="332.80" font-size="9.5" font-weight="bold" fill="#000" textLength="5.63" lengthAdjust="spacingAndGlyphs" >A</text>
<text x="101.39" y="403.00" font-size="9.5" font-weight="bold" fill="#000" textLength="5.63" lengthAdjust="spacingAndGlyphs" >D</text>
<text x="196.59" y="479.00" font-size="9.5" font-weight="bold" fill="#000" textLength="5.63" lengthAdjust="spacingAndGlyphs" >C</text>
<text x="255.40" y="290.00" font-size="9.7" font-weight="bold" fill="#000" textLength="21.20" lengthAdjust="spacingAndGlyphs" >13 cm</text>
<text x="308.60" y="333.00" font-size="9.7" font-weight="bold" fill="#000" textLength="21.40" lengthAdjust="spacingAndGlyphs" >13 cm</text>
<text x="616.90" y="343.70" font-size="9.7" font-weight="bold" fill="#000" textLength="37.10" lengthAdjust="spacingAndGlyphs" >Max. 3 cm</text>
<text x="396.60" y="483.00" font-size="9.7" font-weight="bold" fill="#000" textLength="36.40" lengthAdjust="spacingAndGlyphs" >Max. 3 cm</text>
<text x="500.00" y="481.80" font-size="9.7" font-weight="bold" fill="#000" textLength="16.60" lengthAdjust="spacingAndGlyphs" >6 cm</text>
<text x="166.00" y="374.30" font-size="9.7" font-weight="bold" fill="#a91f27" textLength="37.40" lengthAdjust="spacingAndGlyphs" >Max. 3 cm</text>
<path d="M414.70,193.80 L412.10,188.30 L414.70,188.85 L417.30,188.30 Z" fill="#1c1c1c"/>
<path d="M414.70,203.80 L416.90,208.30 L414.70,207.85 L412.50,208.30 Z" fill="#555"/>
<path d="M414.70,464.50 L417.30,470.00 L414.70,469.45 L412.10,470.00 Z" fill="#1c1c1c"/>
<path d="M414.70,454.00 L412.50,449.50 L414.70,449.95 L416.90,449.50 Z" fill="#555"/>
<path d="M508.40,464.50 L511.00,470.00 L508.40,469.45 L505.80,470.00 Z" fill="#1c1c1c"/>
<path d="M508.40,448.00 L505.80,442.50 L508.40,443.05 L511.00,442.50 Z" fill="#1c1c1c"/>
<path d="M601.50,340.20 L607.00,337.60 L606.45,340.20 L607.00,342.80 Z" fill="#1c1c1c"/>
<path d="M586.50,340.20 L581.00,342.80 L581.55,340.20 L581.00,337.60 Z" fill="#444"/>
<path d="M141.90,370.50 L135.40,373.50 L135.72,370.50 L135.40,367.50 Z" fill="#a91f27"/>
<path d="M152.00,370.50 L158.00,367.70 L157.40,370.50 L158.00,373.30 Z" fill="#a91f27"/>
<defs><linearGradient id="dg" x1="0" y1="0" x2="0" y2="1"><stop offset="0" stop-color="#d2d2d2"/><stop offset="0.5" stop-color="#c6c6c6"/><stop offset="1" stop-color="#b5b6b7"/></linearGradient></defs>
<rect x="246.1" y="310" width="38.6" height="37.1" fill="url(#dg)"/>
<rect x="246.1" y="309" width="38.6" height="1.6" fill="#1a1a1a"/>
<rect x="245.6" y="346.2" width="1.3" height="1.3" fill="#222"/><rect x="283.9" y="346.2" width="1.3" height="1.3" fill="#222"/>
<line x1="101" y1="329.2" x2="256" y2="329.2" stroke="#2a2a2a" stroke-width="1" stroke-dasharray="1.5 1.5" fill="none" stroke-opacity="0.6"/>
<line x1="265.4" y1="338" x2="265.4" y2="492" stroke="#2a2a2a" stroke-width="1" stroke-dasharray="1.5 1.5" fill="none"/>
<rect x="256.0" y="318.8" width="4.0" height="3.9" fill="#111"/>
<rect x="256.0" y="323.6" width="4.0" height="3.9" fill="#111"/>
<rect x="256.0" y="328.4" width="4.0" height="3.9" fill="#111"/>
<rect x="256.0" y="333.2" width="4.0" height="3.9" fill="#111"/>
<rect x="261.0" y="318.8" width="4.0" height="3.9" fill="#111"/>
<rect x="261.0" y="323.6" width="4.0" height="3.9" fill="#111"/>
<rect x="261.0" y="328.4" width="4.0" height="3.9" fill="#111"/>
<rect x="261.0" y="333.2" width="4.0" height="3.9" fill="#111"/>
<rect x="266.0" y="318.8" width="4.0" height="3.9" fill="#111"/>
<rect x="266.0" y="323.6" width="4.0" height="3.9" fill="#111"/>
<rect x="266.0" y="328.4" width="4.0" height="3.9" fill="#111"/>
<rect x="266.0" y="333.2" width="4.0" height="3.9" fill="#111"/>
<rect x="271.0" y="318.8" width="4.0" height="3.9" fill="#111"/>
<rect x="271.0" y="323.6" width="4.0" height="3.9" fill="#111"/>
<rect x="271.0" y="328.4" width="4.0" height="3.9" fill="#111"/>
<rect x="271.0" y="333.2" width="4.0" height="3.9" fill="#111"/>
<line x1="249" y1="297.4" x2="282" y2="297.4" stroke="#555" stroke-width="1.1"/>
<path d="M246.20,297.40 L252.40,295.00 L251.16,297.40 L252.40,299.80 Z" fill="#1c1c1c"/>
<path d="M285.20,297.40 L279.00,299.80 L280.24,297.40 L279.00,295.00 Z" fill="#1c1c1c"/>
<line x1="299.7" y1="313" x2="299.7" y2="345" stroke="#555" stroke-width="1.1"/>
<path d="M299.70,309.80 L302.10,316.00 L299.70,314.76 L297.30,316.00 Z" fill="#1c1c1c"/>
<path d="M299.70,348.60 L297.30,342.40 L299.70,343.64 L302.10,342.40 Z" fill="#1c1c1c"/>
<line x1="149.5" y1="344" x2="149.5" y2="366" stroke="#a91f27" stroke-width="1" stroke-dasharray="1.5 7" stroke-opacity="0.8"/>
<path d="M184,350 L192,363.3 L176,363.3 Z" fill="#a91f27" stroke="#a91f27" stroke-width="0.6" stroke-linejoin="round"/>
<rect x="183.2" y="353.5" width="1.6" height="5.6" fill="#fff"/>
<rect x="183.2" y="360.2" width="1.6" height="1.6" fill="#fff"/>
<g stroke="#111" fill="none" stroke-width="1.4"><circle cx="289.9" cy="204.4" r="1.85"/><circle cx="289.9" cy="195.9" r="1.85"/><line x1="282.5" y1="195.7" x2="288.70" y2="202.99" stroke-width="1.6099999999999999"/><line x1="288.96" y1="197.49" x2="286.33" y2="201.95"/></g>
<g stroke="#111" fill="none" stroke-width="1.4"><circle cx="289.9" cy="452.9" r="1.85"/><circle cx="289.9" cy="461.4" r="1.85"/><line x1="282.5" y1="461.6" x2="288.70" y2="454.31" stroke-width="1.6099999999999999"/><line x1="288.96" y1="459.81" x2="286.33" y2="455.35"/></g>
<g stroke="#111" fill="none" stroke-width="1.4"><circle cx="587.9" cy="283.4" r="1.85"/><circle cx="596.4" cy="283.4" r="1.85"/><line x1="596.5" y1="276.4" x2="589.33" y2="282.23" stroke-width="1.6099999999999999"/><line x1="594.78" y1="282.50" x2="590.29" y2="280.02"/></g>
<g stroke="#a91f27" fill="none" stroke-width="1.4"><circle cx="152.3" cy="280.0" r="1.85"/><circle cx="143.9" cy="280.0" r="1.85"/><line x1="143.2" y1="272.4" x2="150.88" y2="278.81" stroke-width="1.6099999999999999"/><line x1="145.46" y1="279.00" x2="149.67" y2="276.31"/></g>
<text x="530.20" y="644.40" font-size="16.2" font-weight="bold" fill="#111" textLength="164.30" lengthAdjust="spacingAndGlyphs" >A = 35 mm (2 mm ±)</text>
<text x="530.60" y="667.20" font-size="16.2" font-weight="bold" fill="#111" textLength="163.90" lengthAdjust="spacingAndGlyphs" >B = 10 mm (2 mm ±)</text>
<rect x="239.3" y="670.6" width="61.90" height="8.90" fill="#000"/>
<rect x="239.3" y="670.6" width="7.10" height="131.10" fill="#000"/>
<rect x="292.4" y="670.6" width="8.80" height="79.90" fill="#000"/>
<rect x="292.4" y="742.3" width="693.40" height="8.20" fill="#000"/>
<path d="M292.4,739.7 L833.4,779.8 L833.4,789.4 L292.4,749.5 Z" fill="#000"/>
<rect x="824.7" y="781.5" width="8.70" height="20.20" fill="#000"/>
<rect x="239.3" y="793.1" width="594.10" height="8.60" fill="#000"/>
<rect x="976.5" y="670.6" width="62.80" height="8.90" fill="#000"/>
<rect x="976.5" y="670.6" width="9.30" height="79.90" fill="#000"/>
<rect x="1031.9" y="670.6" width="7.40" height="131.00" fill="#000"/>
<rect x="877.0" y="792.8" width="162.30" height="8.80" fill="#000"/>
<rect x="877.0" y="781.5" width="8.60" height="20.10" fill="#000"/>
<path d="M877,778.7 L964,750.3 L985.8,750.3 L985.8,752.8 Q984.5,755.8 980.5,756.6 L885.6,784.9 L877,787.5 Z" fill="#000"/>
<path d="M217.6,670.6 L225.1,698 L221.2,698 L221.2,776.8 L225.1,776.8 L217.6,804.2 L210.1,776.8 L214,776.8 L214,698 L210.1,698 Z" fill="#000"/>
<path d="M312.3,672.4 L318,686.5 L314.5,686.5 L314.5,727.3 L318,727.3 L312.3,741.4 L306.6,727.3 L310.1,727.3 L310.1,686.5 L306.6,686.5 Z" fill="#000"/>
<text x="187.00" y="749.40" font-size="32" font-weight="normal" fill="#222" textLength="17.80" lengthAdjust="spacingAndGlyphs" >A</text>
<text x="317.20" y="717.50" font-size="29.5" font-weight="normal" fill="#222" textLength="13.20" lengthAdjust="spacingAndGlyphs" >B</text>
</svg>
</body></html>
